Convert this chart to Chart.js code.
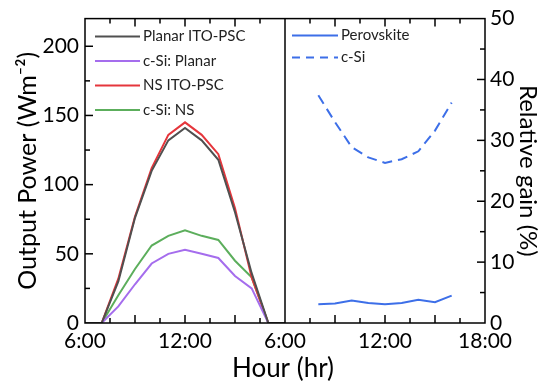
<!DOCTYPE html>
<html>
<head>
<meta charset="utf-8">
<script src="https://cdn.jsdelivr.net/npm/chart.js@4"></script>
<style>
  html, body { margin: 0; padding: 0; background: #fff; }
  #wrap { width: 540px; height: 383px; }
</style>
</head>
<body>
<div id="wrap"><canvas id="power-chart" width="540" height="383"></canvas></div>
<script>
// left panel: output power over the day
let hours = [6, 7, 8, 9, 10, 11, 12, 13, 14, 15, 16, 17, 18];
let planarPsc = [0, 0, 30, 76, 110, 132, 141, 132, 118, 80, 36, 0, 0];
let csiPlanar = [0, 0, 12, 28, 43, 50, 53, 50, 47, 34, 25, 0, 0];
let nsPsc = [0, 0, 32, 77, 112, 136, 145, 136, 122, 83, 33, 0, 0];
let csiNs = [0, 0, 20, 39, 56, 63, 67, 63, 60, 45, 33, 0, 0];

// right panel: relative gain (%)
let gainHours = [8, 9, 10, 11, 12, 13, 14, 15, 16];
let perovskiteGain = [3.1, 3.2, 3.7, 3.3, 3.1, 3.3, 3.8, 3.4, 4.5];
let csiGain = [37.4, 33.0, 28.9, 27.2, 26.3, 26.9, 28.2, 31.6, 36.2];

let hourTicks = [6, 12, 18];
let powerTicks = [0, 50, 100, 150, 200];
let gainTicks = [0, 10, 20, 30, 40, 50];

Chart.defaults.font.family = 'Lato';
Chart.defaults.color = '#000';

function pts(xs, ys) {
    return xs.map((h, i) => ({ x: h, y: ys[i] }));
}

function hourLabel(v) {
    return (v > 12 ? v - 12 : v) + ':00';
}

function tick(ctx, x0, y0, x1, y1) {
    ctx.beginPath();
    ctx.moveTo(x0, y0);
    ctx.lineTo(x1, y1);
    ctx.stroke();
}

// frame, inward tick marks, legends and the x title
const panelDecor = {
    id: 'panelDecor',
    afterDraw(chart) {
        let c = chart.ctx;
        let a = chart.chartArea;
        let sx = chart.scales.x, sx2 = chart.scales.x2;
        let sy = chart.scales.y, sy2 = chart.scales.y2;
        let mid = sx.right;
        c.save();
        c.setLineDash([]);
        c.strokeStyle = '#000';
        c.lineWidth = 1.5;
        c.strokeRect(a.left, a.top, a.right - a.left, a.bottom - a.top);
        tick(c, mid, a.top, mid, a.bottom);

        [sx, sx2].forEach(s => {
            for (let v = 7.5; v < 18; v += 1.5) {
                let px = s.getPixelForValue(v);
                let len = v % 3 === 0 ? 8 : 5;
                tick(c, px, a.bottom, px, a.bottom - len);
                tick(c, px, a.top, px, a.top + len);
            }
        });
        for (let v = 25; v < 220; v += 25) {
            let py = sy.getPixelForValue(v);
            tick(c, a.left, py, a.left + (v % 50 === 0 ? 8 : 5), py);
        }
        for (let v = 5; v < 50; v += 5) {
            let py = sy2.getPixelForValue(v);
            tick(c, a.right, py, a.right - (v % 10 === 0 ? 8 : 5), py);
        }

        // legends, one per panel
        c.font = '15px Lato';
        c.textBaseline = 'middle';
        c.fillStyle = '#222';
        let panels = [
            { id: 'x', x0: a.left + 10, x1: a.left + 55, y0: a.top + 18, gap: 24.5 },
            { id: 'x2', x0: mid + 7, x1: mid + 53, y0: a.top + 17, gap: 22 }
        ];
        panels.forEach(p => {
            let row = 0;
            chart.data.datasets.forEach(ds => {
                if (ds.xAxisID !== p.id) return;
                let y = p.y0 + row * p.gap;
                c.strokeStyle = ds.borderColor;
                c.lineWidth = 2;
                c.setLineDash(ds.borderDash ? [8, 6] : []);
                tick(c, p.x0, y, p.x1, y);
                c.setLineDash([]);
                c.fillText(ds.label, p.x1 + 3, y);
                row++;
            });
        });

        c.font = '26px Lato';
        c.fillStyle = '#000';
        c.textAlign = 'center';
        c.fillText('Hour (hr)', mid - 2, 369);
        c.restore();
    }
};

let ctx = document.getElementById('power-chart').getContext('2d');
let powerChart = new Chart(ctx, {
    type: 'line',
    data: {
        datasets: [
            { label: 'Planar ITO-PSC', data: pts(hours, planarPsc), borderColor: '#505050', xAxisID: 'x', yAxisID: 'y' },
            { label: 'c-Si: Planar', data: pts(hours, csiPlanar), borderColor: '#a56ded', xAxisID: 'x', yAxisID: 'y' },
            { label: 'NS ITO-PSC', data: pts(hours, nsPsc), borderColor: '#e5363c', xAxisID: 'x', yAxisID: 'y' },
            { label: 'c-Si: NS', data: pts(hours, csiNs), borderColor: '#5cae5c', xAxisID: 'x', yAxisID: 'y' },
            { label: 'Perovskite', data: pts(gainHours, perovskiteGain), borderColor: '#3d6fe8', xAxisID: 'x2', yAxisID: 'y2' },
            { label: 'c-Si', data: pts(gainHours, csiGain), borderColor: '#3d6fe8', borderDash: [10, 6], xAxisID: 'x2', yAxisID: 'y2' }
        ]
    },
    options: {
        responsive: false,
        animation: false,
        layout: { padding: { top: 15 } },
        elements: {
            line: { borderWidth: 2, tension: 0 },
            point: { radius: 0 }
        },
        plugins: {
            legend: { display: false },
            tooltip: { enabled: false }
        },
        scales: {
            x: {
                type: 'linear', position: 'bottom', stack: 'hours',
                min: 6, max: 18,
                grid: { display: false, drawTicks: false },
                border: { display: false },
                afterBuildTicks: s => { s.ticks = hourTicks.map(v => ({ value: v })); },
                ticks: { autoSkip: false, padding: 6, maxRotation: 0, font: { size: 21 }, callback: v => hourLabel(v) },
                afterFit: s => { s.height = 60; }
            },
            x2: {
                type: 'linear', position: 'bottom', stack: 'hours',
                min: 6, max: 18,
                grid: { display: false, drawTicks: false },
                border: { display: false },
                afterBuildTicks: s => { s.ticks = hourTicks.filter(v => v > 6).map(v => ({ value: v })); },
                ticks: { autoSkip: false, padding: 6, maxRotation: 0, font: { size: 21 }, callback: v => v + ':00' },
                afterFit: s => { s.height = 60; }
            },
            y: {
                position: 'left', min: 0, max: 220,
                grid: { display: false, drawTicks: false },
                border: { display: false },
                afterBuildTicks: s => { s.ticks = powerTicks.map(v => ({ value: v })); },
                ticks: { padding: 6, font: { size: 21 } },
                title: { display: true, text: 'Output Power (Wm\u207B\u00B2)', font: { size: 25, lineHeight: 1 }, padding: { top: 15, bottom: 0 } },
                afterFit: s => { s.width = 85; }
            },
            y2: {
                position: 'right', min: 0, max: 50,
                grid: { display: false, drawTicks: false },
                border: { display: false },
                afterBuildTicks: s => { s.ticks = gainTicks.map(v => ({ value: v })); },
                ticks: { padding: 5, font: { size: 21 } },
                title: { display: true, text: 'Relative gain (%)', font: { size: 24, lineHeight: 1 }, padding: { top: 0, bottom: 0 } },
                afterFit: s => { s.width = 55; }
            }
        }
    },
    plugins: [panelDecor]
});
</script>
</body>
</html>
